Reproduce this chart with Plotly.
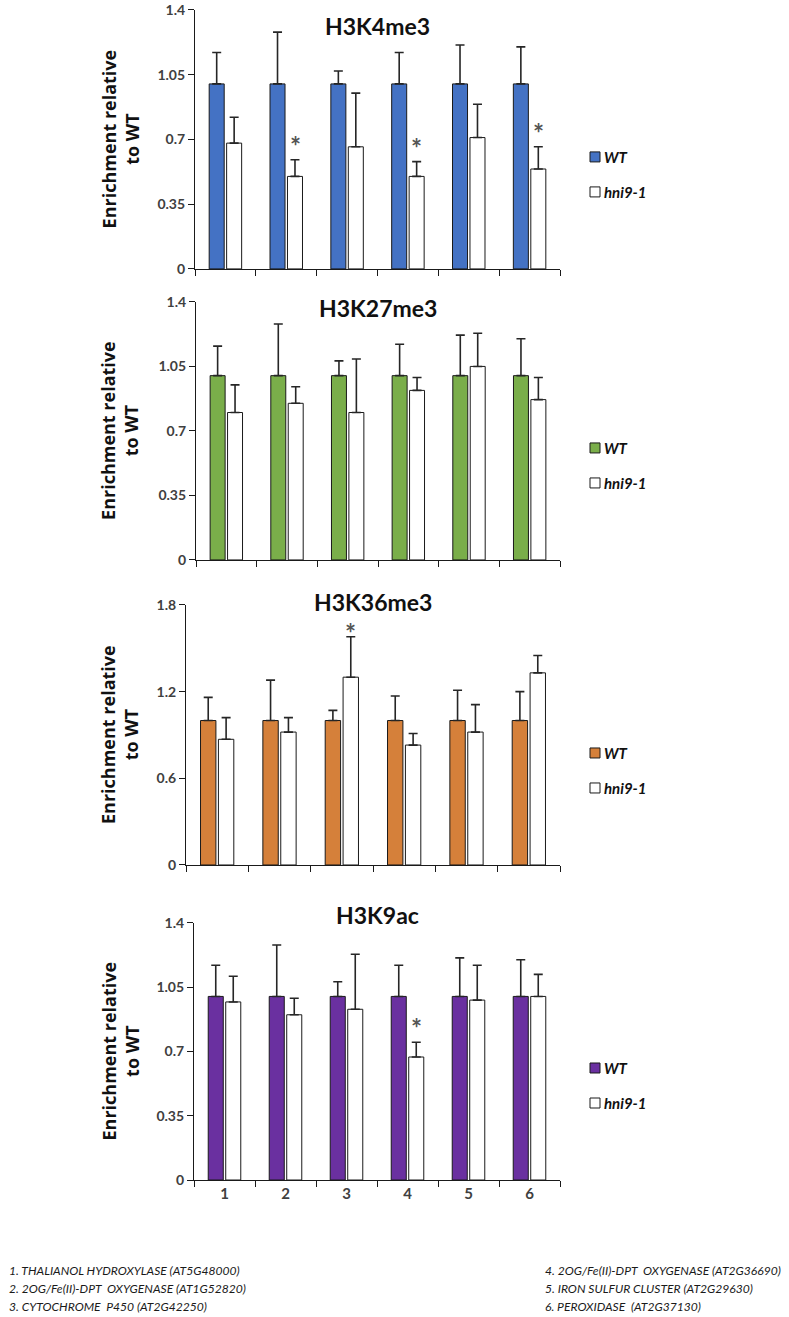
import plotly.graph_objects as go

W, H = 789, 1317

categories = ["1", "2", "3", "4", "5", "6"]
series_names = ["WT", "hni9-1"]
panel_titles = ["H3K4me3", "H3K27me3", "H3K36me3", "H3K9ac"]
wt_colors = ["#4472C4", "#7AAE4A", "#D5803A", "#6A30A0"]

k4_wt = [1.0, 1.0, 1.0, 1.0, 1.0, 1.0]
k4_wt_err = [0.17, 0.28, 0.07, 0.17, 0.21, 0.20]
k4_hni = [0.68, 0.50, 0.66, 0.50, 0.71, 0.54]
k4_hni_err = [0.14, 0.09, 0.29, 0.08, 0.18, 0.12]
k4_sig = [False, True, False, True, False, True]

k27_wt = [1.0, 1.0, 1.0, 1.0, 1.0, 1.0]
k27_wt_err = [0.16, 0.28, 0.08, 0.17, 0.22, 0.20]
k27_hni = [0.80, 0.85, 0.80, 0.92, 1.05, 0.87]
k27_hni_err = [0.15, 0.09, 0.29, 0.07, 0.18, 0.12]
k27_sig = [False, False, False, False, False, False]

k36_wt = [1.0, 1.0, 1.0, 1.0, 1.0, 1.0]
k36_wt_err = [0.16, 0.28, 0.07, 0.17, 0.21, 0.20]
k36_hni = [0.87, 0.92, 1.30, 0.83, 0.92, 1.33]
k36_hni_err = [0.15, 0.10, 0.28, 0.08, 0.19, 0.12]
k36_sig = [False, False, True, False, False, False]

k9_wt = [1.0, 1.0, 1.0, 1.0, 1.0, 1.0]
k9_wt_err = [0.17, 0.28, 0.08, 0.17, 0.21, 0.20]
k9_hni = [0.97, 0.90, 0.93, 0.67, 0.98, 1.00]
k9_hni_err = [0.14, 0.09, 0.30, 0.08, 0.19, 0.12]
k9_sig = [False, False, False, True, False, False]

y_ticks_a = [0, 0.35, 0.7, 1.05, 1.4]
y_ticks_b = [0, 0.6, 1.2, 1.8]

NB = "\u00a0"
gene_labels_left = [
    "1. THALIANOL HYDROXYLASE (AT5G48000)",
    f"2. 2OG/Fe(II)-DPT{NB} OXYGENASE (AT1G52820)",
    f"3. CYTOCHROME{NB} P450 (AT2G42250)",
]
gene_labels_right = [
    f"4. 2OG/Fe(II)-DPT{NB} OXYGENASE (AT2G36690)",
    "5. IRON SULFUR CLUSTER (AT2G29630)",
    f"6. PEROXIDASE{NB} (AT2G37130)",
]

panels = [
    dict(wt=k4_wt, wte=k4_wt_err, hn=k4_hni, hne=k4_hni_err, sig=k4_sig, ticks=y_ticks_a,
         px=(195, 560), py=(9, 268), title_y=25, star_shift=-4),
    dict(wt=k27_wt, wte=k27_wt_err, hn=k27_hni, hne=k27_hni_err, sig=k27_sig, ticks=y_ticks_a,
         px=(196, 560), py=(301, 559), title_y=307, star_shift=-4),
    dict(wt=k36_wt, wte=k36_wt_err, hn=k36_hni, hne=k36_hni_err, sig=k36_sig, ticks=y_ticks_b,
         px=(186, 560), py=(604, 864), title_y=601, star_shift=-14),
    dict(wt=k9_wt, wte=k9_wt_err, hn=k9_hni, hne=k9_hni_err, sig=k9_sig, ticks=y_ticks_a,
         px=(194, 560), py=(922, 1179), title_y=914, star_shift=-4),
]

FONT = "Lato"
TICKCOL = "#404040"

fig = go.Figure()
annotations = []
shapes = []

def fx(p):
    return p / W

def fy(p):
    # page capture compresses vertically (~0.987, +8px); compensate
    return 1 - ((p - 8.1) / 0.987) / H

for i, p in enumerate(panels):
    n = i + 1
    xa = "x" if n == 1 else f"x{n}"
    ya = "y" if n == 1 else f"y{n}"
    err_style = dict(type="data", symmetric=False, arrayminus=[0] * 6,
                     color="#262626", thickness=1.6, width=4.5)
    fig.add_trace(go.Bar(x=categories, y=p["wt"], name=series_names[0],
                         marker=dict(color=wt_colors[i], line=dict(color="#1a1a1a", width=1)),
                         error_y=dict(array=p["wte"], **err_style),
                         xaxis=xa, yaxis=ya, showlegend=False))
    fig.add_trace(go.Bar(x=categories, y=p["hn"], name=series_names[1],
                         marker=dict(color="white", line=dict(color="#1a1a1a", width=1)),
                         error_y=dict(array=p["hne"], **err_style),
                         xaxis=xa, yaxis=ya, showlegend=False))

    x0, x1 = p["px"]
    y0, y1 = p["py"]
    last = (n == 4)
    fig.layout[f"xaxis{'' if n == 1 else n}"] = dict(
        domain=[fx(x0), fx(x1)], anchor=ya, type="category", range=[-0.5, 5.5],
        showline=True, linecolor="#1a1a1a", linewidth=1.2,
        ticks="outside", tickson="boundaries", ticklen=6, tickcolor="#1a1a1a", tickwidth=1.2,
        showticklabels=last, showgrid=False, zeroline=False,
        tickfont=dict(family=FONT, size=15, color=TICKCOL, weight="bold"),
    )
    ymax = p["ticks"][-1]
    fig.layout[f"yaxis{'' if n == 1 else n}"] = dict(
        domain=[max(0, fy(y1)), min(1, fy(y0))], anchor=xa, range=[0, ymax],
        tickvals=p["ticks"], ticktext=[("%g" % t) for t in p["ticks"]],
        showline=True, linecolor="#1a1a1a", linewidth=1.2,
        ticks="outside", ticklen=6, tickcolor="#1a1a1a", tickwidth=1.2,
        showgrid=False, zeroline=False,
        tickfont=dict(family=FONT, size=14, color=TICKCOL, weight="bold"),
    )

    # panel title
    annotations.append(dict(text=panel_titles[i], x=fx((x0 + x1) / 2), y=fy(p["title_y"]),
                            xref="paper", yref="paper", showarrow=False,
                            yanchor="middle", xanchor="center",
                            font=dict(family=FONT, size=23, color="#111111", weight="bold")))
    # y title
    annotations.append(dict(text="Enrichment relative<br>to WT", x=fx(120), y=fy((y0 + y1) / 2),
                            xref="paper", yref="paper", showarrow=False, textangle=-90,
                            xanchor="center", yanchor="middle",
                            font=dict(family="Open Sans", size=18, color="#111111", weight="bold")))
    # significance
    for j, s in enumerate(p["sig"]):
        if s:
            annotations.append(dict(text="*", x=j, y=p["hn"][j] + p["hne"][j],
                                    xref=xa, yref=ya, showarrow=False, xshift=9,
                                    yshift=p["star_shift"],
                                    yanchor="bottom", xanchor="center",
                                    font=dict(family=FONT, size=26, color="#555555", weight="bold")))
    # legend (per panel)
    for k, (lab, col) in enumerate([(series_names[0], wt_colors[i]), (series_names[1], "white")]):
        cy = y1 - (112 if k == 0 else 77)
        shapes.append(dict(type="rect", xref="paper", yref="paper",
                           x0=fx(590), x1=fx(600), y0=fy(cy + 5), y1=fy(cy - 5),
                           fillcolor=col, line=dict(color="#1a1a1a", width=1)))
        annotations.append(dict(text=lab, x=fx(602), y=fy(cy), xref="paper", yref="paper",
                                showarrow=False, xanchor="left", yanchor="middle",
                                font=dict(family=FONT, size=15, color="#111111",
                                          weight="bold", style="italic")))

for k, t in enumerate(gene_labels_left):
    annotations.append(dict(text=t, x=fx(7), y=fy(1269 + 18 * k), xref="paper", yref="paper",
                            showarrow=False, xanchor="left", yanchor="middle",
                            font=dict(family=FONT, size=12.1, color="#1a1a1a", style="italic")))
for k, t in enumerate(gene_labels_right):
    annotations.append(dict(text=t, x=fx(543), y=fy(1269 + 18 * k), xref="paper", yref="paper",
                            showarrow=False, xanchor="left", yanchor="middle",
                            font=dict(family=FONT, size=12.1, color="#1a1a1a", style="italic")))

fig.update_layout(
    width=W, height=H, margin=dict(l=0, r=0, t=0, b=0),
    paper_bgcolor="white", plot_bgcolor="white",
    barmode="group", bargap=0.426, bargroupgap=0.14,
    annotations=annotations, shapes=shapes, showlegend=False,
    font=dict(family=FONT),
)

fig.write_html(
    "out.html",
    config={"displayModeBar": False},
    post_script=(
        "document.documentElement.style.margin='0';"
        "document.body.style.margin='0';"
        "document.documentElement.style.overflow='hidden';"
        "document.body.style.overflow='hidden';"
    ),
)
